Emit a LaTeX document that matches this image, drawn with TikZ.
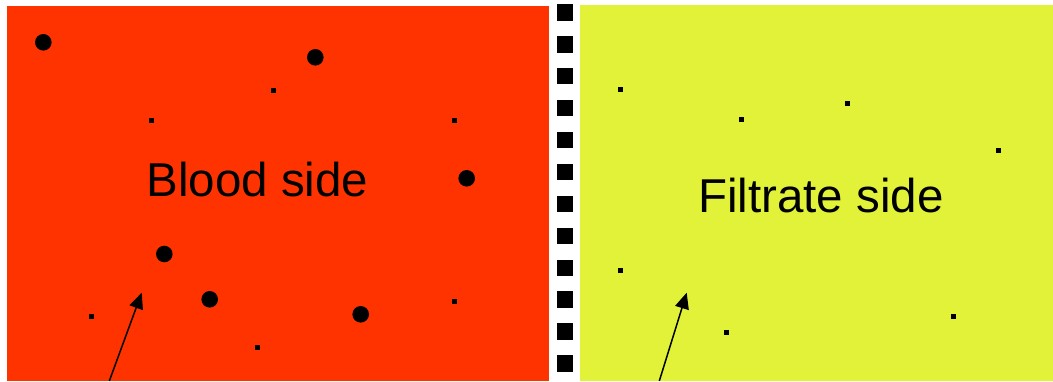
\documentclass[tikz,border=0pt]{standalone}
\usepackage{fontspec}
\setmainfont{Liberation Sans}
\usepackage{xcolor}
\usetikzlibrary{arrows.meta,positioning}
\definecolor{bloodred}{RGB}{255,51,0}
\definecolor{filtrateyellow}{RGB}{225,242,56}

\begin{document}
\begin{tikzpicture}[x=1pt, y=-1pt,
    side/.style={font=\fontsize{47.5}{52}\selectfont, anchor=base, inner sep=0pt},
    bigdot/.style={fill=black},
    smalldot/.style={fill=black},
    pointer/.style={line width=1.5pt, -{Triangle[length=16pt, width=14pt]}}
]
\useasboundingbox (0,0) rectangle (1053,381);
\fill[white] (0,0) rectangle (1053,381);

% Blood side - left
\fill[bloodred] (6.5,5.5) rectangle (549,381);

% Filtrate side - right
\fill[filtrateyellow] (580,4.7) rectangle (1053,381);

% Membrane pores
\foreach \i in {0,...,11}
    \fill[black] (556.7,4.3+31.9*\i) rectangle +(16.6,16.3);

% Labels
\node[side] (blood) at (257.3,196) {Blood side};
\node[side] (filtrate) at (820.9,212.7) {Filtrate side};

% Large molecules - blood only
\foreach \x/\y in {43.3/42.3, 315.3/57.3, 466.7/178.3, 164.3/254, 209.7/299.3, 360.7/314.3}
    \fill[bigdot] (\x,\y) circle (8.3);

% Small molecules - both sides
\foreach \x/\y in {273/90.7, 151.7/120.3, 454.3/120.3, 91.3/316.7, 454.3/301.3, 257.7/347.3,
                   620/89, 741/119, 847/103, 998.7/150, 620/270, 726.3/332.3, 953.3/316.3}
    \fill[smalldot] (\x-2.5,\y-2.5) rectangle +(5,5);

% Arrows
\coordinate (bloodfoot) at (109.3,381);
\coordinate (bloodtip) at (141.7,292.7);
\coordinate (filtratefoot) at (659.3,381);
\coordinate (filtratetip) at (686.7,292.7);
\draw[pointer] (bloodfoot) -- (bloodtip);
\draw[pointer] (filtratefoot) -- (filtratetip);

\end{tikzpicture}
\end{document}
